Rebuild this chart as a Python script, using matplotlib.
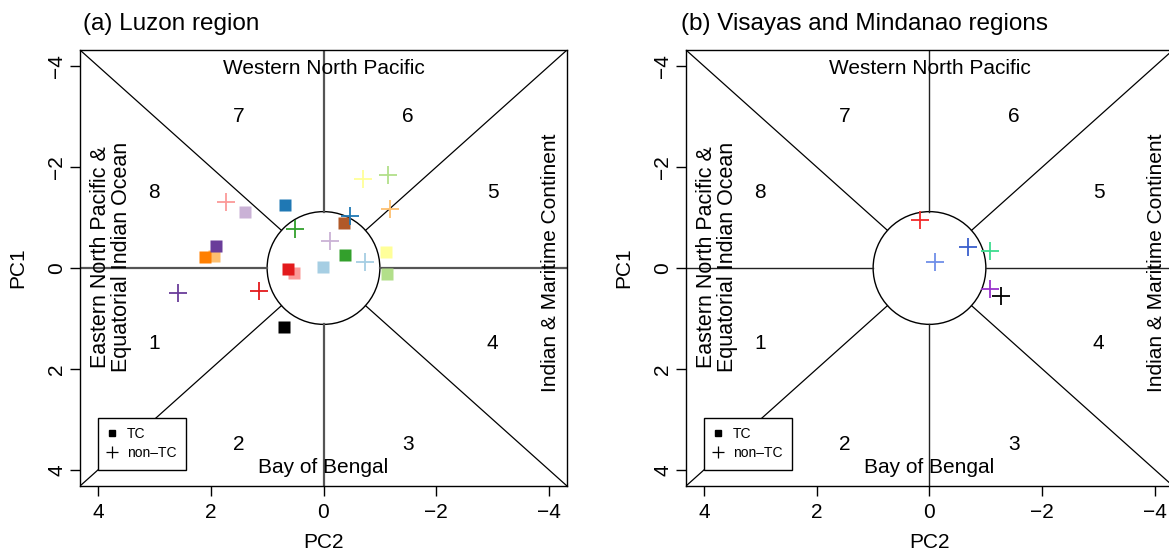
import numpy as np
import matplotlib.pyplot as plt
from matplotlib.patches import Ellipse
from matplotlib.lines import Line2D

plt.rcParams['font.family'] = ['Liberation Sans', 'DejaVu Sans']
plt.rcParams['axes.unicode_minus'] = True

LIM = 4.32      # axis half-range (PC units)
R = 1.0         # radius of the "weak" circle in PC2 units

# (a) Luzon region -- TC composites (filled squares)
luzon_tc_pc2 = [0.01, 0.69, -1.12, -0.38, 0.53, 0.63, 1.95, 2.11, 1.40, 1.91, -1.11, -0.36, 0.70]
luzon_tc_pc1 = [-0.01, -1.24, 0.12, -0.25, 0.10, 0.01, -0.23, -0.21, -1.10, -0.44, -0.31, -0.90, 1.17]
luzon_tc_col = ['#A6CEE3', '#1F78B4', '#B2DF8A', '#33A02C', '#FB9A99', '#E31A1C',
                '#FDBF6F', '#FF7F00', '#CAB2D6', '#6A3D9A', '#FFFF99', '#B15928', '#000000']

# (a) Luzon region -- non-TC composites (crosses)
luzon_ntc_pc2 = [-0.73, -0.47, -1.15, 0.50, 1.73, 1.14, -1.18, -0.11, 2.58, -0.70]
luzon_ntc_pc1 = [-0.11, -1.04, -1.84, -0.78, -1.31, 0.46, -1.16, -0.54, 0.49, -1.77]
luzon_ntc_col = ['#A6CEE3', '#1F78B4', '#B2DF8A', '#33A02C', '#FB9A99', '#E31A1C',
                 '#FDBF6F', '#CAB2D6', '#6A3D9A', '#FFFF99']

# (b) Visayas and Mindanao -- non-TC composites (crosses)
vm_ntc_pc2 = [0.16, -0.68, -0.10, -1.07, -1.07, -1.27]
vm_ntc_pc1 = [-0.95, -0.41, -0.11, -0.33, 0.41, 0.55]
vm_ntc_col = ['#F22A2A', '#3A5FCD', '#6F8FE8', '#3DDC8F', '#9A32CD', '#000000']

sector_num = ['1', '2', '3', '4', '5', '6', '7', '8']
sector_pc2 = [3.0, 1.5, -1.5, -3.0, -3.0, -1.5, 1.5, 3.0]
sector_pc1 = [1.5, 3.5, 3.5, 1.5, -1.5, -3.0, -3.0, -1.5]

FW, FH = 1169, 551
fig = plt.figure(figsize=(FW / 100, FH / 100), dpi=100)

pos_a = [80 / FW, 65 / FH, 487 / FW, 436 / FH]
pos_b = [686 / FW, 65 / FH, 487 / FW, 436 / FH]


def draw_frame(ax, pos, centre_col, centre_lw):
    ax.set_xlim(LIM, -LIM)
    ax.set_ylim(LIM, -LIM)
    # circle is round on screen, so stretch it in PC1 units
    w_px = pos[2] * FW
    h_px = pos[3] * FH
    ry = R * w_px / h_px
    ax.add_patch(Ellipse((0, 0), 2 * R, 2 * ry, fill=False, lw=1.0, ec='black', zorder=2))
    for sx in (1, -1):
        for sy in (1, -1):
            cx, cy = sx * LIM, sy * LIM
            t = 1.0 / np.sqrt((cx / R) ** 2 + (cy / ry) ** 2)
            ax.plot([cx, t * cx], [cy, t * cy], color='black', lw=0.9, zorder=2)
    ax.plot([0, 0], [ry, LIM], color=centre_col, lw=centre_lw, zorder=2)
    ax.plot([0, 0], [-ry, -LIM], color=centre_col, lw=centre_lw, zorder=2)
    ax.plot([R, LIM], [0, 0], color=centre_col, lw=centre_lw, zorder=2)
    ax.plot([-R, -LIM], [0, 0], color=centre_col, lw=centre_lw, zorder=2)

    for s, x, y in zip(sector_num, sector_pc2, sector_pc1):
        ax.text(x, y, s, ha='center', va='center', fontsize=15)
    ax.text(0, -3.96, 'Western North Pacific', ha='center', va='center', fontsize=15)
    ax.text(0, 3.96, 'Bay of Bengal', ha='center', va='center', fontsize=15)
    ax.text(3.77, -0.22, 'Eastern North Pacific &\nEquatorial Indian Ocean', rotation=90,
            ha='center', va='center', fontsize=15.5, linespacing=1.0)
    ax.text(-4.02, -0.1, 'Indian & Maritime Continent', rotation=90,
            ha='center', va='center', fontsize=15)

    ax.set_xticks([4, 2, 0, -2, -4])
    ax.set_yticks([-4, -2, 0, 2, 4])
    ax.tick_params(direction='out', length=7, width=1, labelsize=15, pad=5)
    ax.tick_params(axis='y', pad=3)
    for lab in ax.get_yticklabels():
        lab.set_rotation(90)
        lab.set_va('center')
    ax.set_xlabel('PC2', fontsize=15, labelpad=8)
    ax.set_ylabel('PC1', fontsize=15, labelpad=14)
    for sp in ax.spines.values():
        sp.set_linewidth(1.0)

    handles = [Line2D([], [], ls='none', marker='s', color='black', ms=5),
               Line2D([], [], ls='none', marker='+', color='black', ms=8, mew=0.9)]
    leg = ax.legend(handles, ['TC', 'non\u2013TC'], loc='lower left',
                    bbox_to_anchor=(0.037, 0.037), fontsize=10, frameon=True,
                    fancybox=False, edgecolor='black', framealpha=1,
                    handlelength=0.6, handletextpad=0.8, borderpad=0.7,
                    labelspacing=0.35, borderaxespad=0)
    leg.get_frame().set_linewidth(1.0)
    leg.set_zorder(5)


ax_a = fig.add_axes(pos_a)
draw_frame(ax_a, pos_a, '#555555', 1.6)
for x, y, c in zip(luzon_tc_pc2, luzon_tc_pc1, luzon_tc_col):
    ax_a.plot(x, y, marker='s', ms=9.2, color=c, mec='none', ls='none', zorder=3)
for x, y, c in zip(luzon_ntc_pc2, luzon_ntc_pc1, luzon_ntc_col):
    ax_a.plot(x, y, marker='+', ms=13, mew=1.3, color=c, ls='none', zorder=3)

ax_b = fig.add_axes(pos_b)
draw_frame(ax_b, pos_b, '#222222', 1.0)
for x, y, c in zip(vm_ntc_pc2, vm_ntc_pc1, vm_ntc_col):
    ax_b.plot(x, y, marker='+', ms=13, mew=1.3, color=c, ls='none', zorder=3)

fig.text(83 / FW, 1 - 24 / FH, '(a) Luzon region', fontsize=17.5, ha='left', va='center')
fig.text(681 / FW, 1 - 24 / FH, '(b) Visayas and Mindanao regions', fontsize=17.5,
         ha='left', va='center')

fig.savefig('out.png', dpi=100)
